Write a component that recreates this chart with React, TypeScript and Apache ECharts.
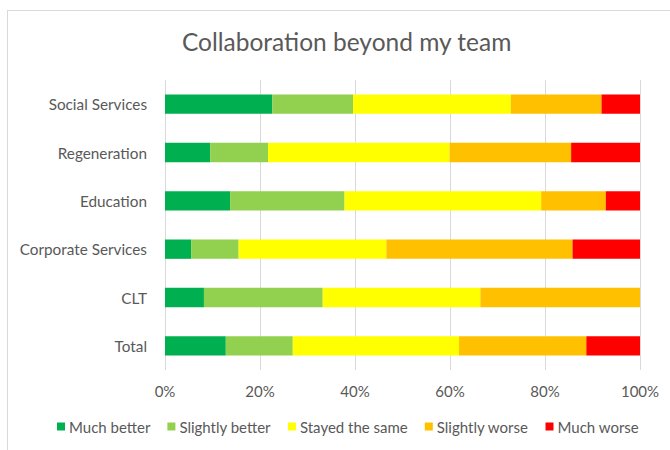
import React, { useEffect, useRef } from "react";
import * as echarts from "echarts";

const categories = ["Social Services", "Regeneration", "Education", "Corporate Services", "CLT", "Total"];
const seriesNames = ["Much better", "Slightly better", "Stayed the same", "Slightly worse", "Much worse"];
const muchBetter = [22.6, 9.5, 13.7, 5.5, 8.2, 12.8];
const slightlyBetter = [17.0, 12.2, 24.1, 10.0, 25.0, 14.1];
const stayedSame = [33.2, 38.2, 41.4, 31.1, 33.2, 35.0];
const slightlyWorse = [19.1, 25.6, 13.6, 39.2, 33.6, 26.8];
const muchWorse = [8.1, 14.5, 7.2, 14.2, 0, 11.3];
const colors = ["#00B050", "#92D050", "#FFFF00", "#FFC000", "#FF0000"];

const FONT = "Lato, 'Open Sans', sans-serif";

export default function App() {
  const ref = useRef<HTMLDivElement>(null);
  useEffect(() => {
    if (!ref.current) return;
    const chart = echarts.init(ref.current, undefined, { renderer: "svg" });
    const values = [muchBetter, slightlyBetter, stayedSame, slightlyWorse, muchWorse];
    chart.setOption({
      animation: false,
      backgroundColor: "#ffffff",
      textStyle: { fontFamily: FONT },
      title: {
        text: "Collaboration beyond my team",
        left: 177,
        top: 24,
        textStyle: { fontFamily: FONT, fontSize: 24.5, fontWeight: "normal", color: "#595959" },
      },
      graphic: [
        { type: "line", shape: { x1: 7, y1: 10.5, x2: 670, y2: 10.5 }, style: { stroke: "#d9d9d9", lineWidth: 1 } },
        { type: "line", shape: { x1: 7.5, y1: 10, x2: 7.5, y2: 450 }, style: { stroke: "#d9d9d9", lineWidth: 1 } },
      ],
      grid: { left: 165, right: 30, top: 80, bottom: 80, containLabel: false },
      legend: {
        data: seriesNames,
        top: 414,
        left: 52,
        icon: "rect",
        itemWidth: 8,
        itemHeight: 8,
        itemGap: 17,
        textStyle: { fontFamily: FONT, fontSize: 15, color: "#595959", padding: [0, 0, 0, -1] },
      },
      xAxis: {
        type: "value",
        min: 0,
        max: 100,
        interval: 20,
        axisLine: { show: false },
        axisTick: { show: false },
        axisLabel: { formatter: "{value}%", color: "#595959", fontSize: 15, fontFamily: FONT, margin: 13 },
        splitLine: { lineStyle: { color: "#d9d9d9", width: 1 } },
      },
      yAxis: {
        type: "category",
        data: categories,
        inverse: true,
        axisLine: { show: false },
        axisTick: { show: false },
        axisLabel: { color: "#595959", fontSize: 15.3, fontFamily: FONT, margin: 18 },
      },
      series: seriesNames.map((name, i) => ({
        name,
        type: "bar",
        stack: "total",
        barCategoryGap: "60%",
        itemStyle: { color: colors[i] },
        data: values[i],
      })),
    });
    return () => chart.dispose();
  }, []);
  return (
    <div
      ref={ref}
      style={{ position: "fixed", left: 0, top: 0, width: 670, height: 450 }}
    />
  );
}
